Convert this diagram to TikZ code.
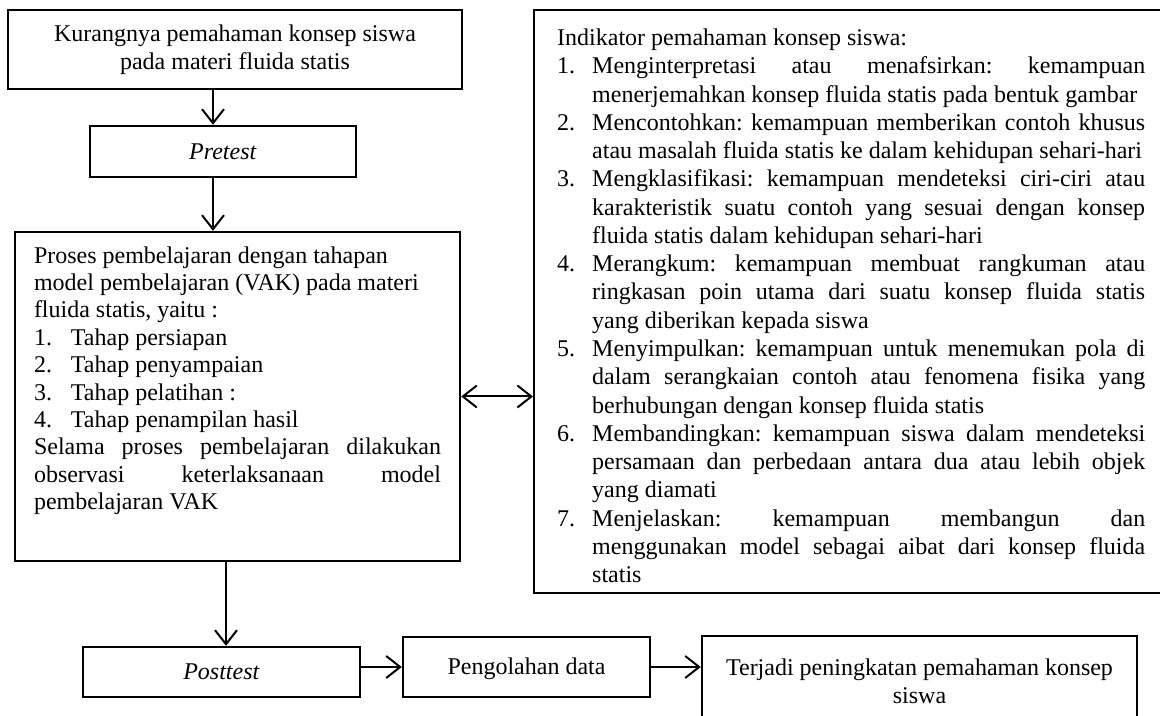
\documentclass[tikz,border=0pt]{standalone}
\usepackage{fontspec}
\setmainfont{Liberation Serif}
\usetikzlibrary{arrows.meta,calc}
\frenchspacing
\newcommand{\butir}[2]{\par\hangindent=17.5pt\hangafter=1\noindent\makebox[17.5pt][l]{#1}#2}

\begin{document}
\begin{tikzpicture}[x=1pt,y=1pt,
  box/.style={draw,line width=1.2pt,font=\fontsize{12pt}{14pt}\selectfont},
  arr/.style={line width=1pt,-{Straight Barb[length=7pt,width=11pt]}},
  darr/.style={line width=1pt,{Straight Barb[length=7pt,width=11pt]}-{Straight Barb[length=7pt,width=11pt]}}]
  \useasboundingbox (0,0) rectangle (580,358);
  \clip (0,0) rectangle (580,358);
  %KOLOM KIRI
  \node[box,align=center,minimum width=227pt,minimum height=39.5pt] (top) at (117.5,333.25)
    {Kurangnya pemahaman konsep siswa\\pada materi fluida statis};
  \node[box,minimum width=133pt,minimum height=25.5pt] (pre) at (111.5,282.25) {\textit{Pretest}};
  \node[box,inner xsep=9.5pt,inner ysep=7.25pt] (pro) at (118.75,159.75)
    {\begin{minipage}[c][150pt][t]{203.5pt}\fontsize{12pt}{13.7pt}\selectfont\parskip=0pt
      Proses pembelajaran dengan tahapan\\
      model pembelajaran (VAK) pada materi\\
      fluida statis, yaitu :\\
      \makebox[18.5pt][l]{1.}Tahap persiapan\\
      \makebox[18.5pt][l]{2.}Tahap penyampaian\\
      \makebox[18.5pt][l]{3.}Tahap pelatihan :\\
      \makebox[18.5pt][l]{4.}Tahap penampilan hasil\par
      Selama proses pembelajaran dilakukan\linebreak
      observasi keterlaksanaan model\linebreak
      pembelajaran VAK
    \end{minipage}};
  \node[box,minimum width=138.5pt,minimum height=25pt] (post) at (110.75,22) {\textit{Posttest}};
  %KOLOM KANAN (sisi kanan terpotong)
  \node[box,anchor=west,inner xsep=11.5pt,inner ysep=9.5pt] (ind) at (266.5,207.25)
    {\begin{minipage}[c][272.5pt][t]{294pt}\fontsize{12pt}{14.13pt}\selectfont\parskip=0pt
      Indikator pemahaman konsep siswa:
      \butir{1.}{Menginterpretasi atau menafsirkan: kemampuan\linebreak menerjemahkan konsep fluida statis pada bentuk gambar}
      \butir{2.}{Mencontohkan: kemampuan memberikan contoh khusus\linebreak atau masalah fluida statis ke dalam kehidupan sehari-hari}
      \butir{3.}{Mengklasifikasi: kemampuan mendeteksi ciri-ciri atau\linebreak karakteristik suatu contoh yang sesuai dengan konsep\linebreak fluida statis dalam kehidupan sehari-hari}
      \butir{4.}{Merangkum: kemampuan membuat rangkuman atau\linebreak ringkasan poin utama dari suatu konsep fluida statis\linebreak yang diberikan kepada siswa}
      \butir{5.}{Menyimpulkan: kemampuan untuk menemukan pola di\linebreak dalam serangkaian contoh atau fenomena fisika yang\linebreak berhubungan dengan konsep fluida statis}
      \butir{6.}{Membandingkan: kemampuan siswa dalam mendeteksi\linebreak persamaan dan perbedaan antara dua atau lebih objek\linebreak yang diamati}
      \butir{7.}{Menjelaskan: kemampuan membangun dan\linebreak menggunakan model sebagai aibat dari konsep fluida\linebreak statis}
    \end{minipage}\rule{16pt}{0pt}};
  %BAWAH
  \node[box,minimum width=123.5pt,minimum height=30pt,text depth=1pt] (peng) at (263.25,24.5) {Pengolahan data};
  \node[box,align=center,minimum width=217.5pt,minimum height=45.5pt] (ter) at (459.75,17.25)
    {Terjadi peningkatan pemahaman konsep\\siswa};
  %PANAH
  \coordinate (a1) at (106.5,0);
  \coordinate (a2) at (113,0);
  \draw[arr] (top.south -| a1) -- (pre.north -| a1);
  \draw[arr] (pre.south -| a1) -- (pro.north -| a1);
  \draw[arr] (pro.south -| a2) -- (post.north -| a2);
  \draw[darr] (pro.east) -- (pro.east -| ind.west);
  \draw[arr] (post.east |- peng.west) -- (peng.west);
  \draw[arr] (peng.east) -- (peng.east -| ter.west);
\end{tikzpicture}
\end{document}
